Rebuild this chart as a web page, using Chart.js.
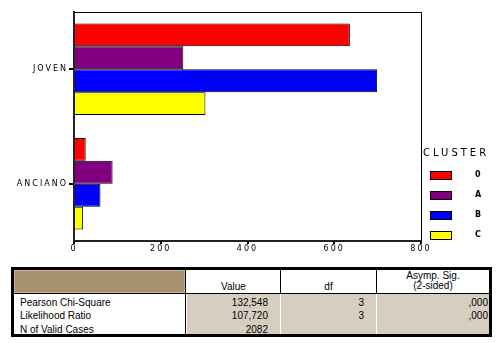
<!DOCTYPE html>
<html>
<head>
<meta charset="utf-8">
<script src="https://cdn.jsdelivr.net/npm/chart.js@4"></script>
<style>
  body { margin: 0; background: #fff; width: 500px; height: 343px; position: relative; overflow: hidden; font-family: "Liberation Sans", Arial, sans-serif; font-size: 10px; color: #000; }
  #chartBox { position: absolute; left: 0; top: 0; width: 500px; height: 260px; }
  #stats { position: absolute; left: 11px; top: 267px; width: 475px; height: 64px; border: 3px solid #000; background: #fff; overflow: hidden; }
  #stats div { position: absolute; box-sizing: border-box; white-space: nowrap; line-height: 12px; }
  .tan { background: #d6cfc1; }
  .hdr { background: #a8926f; border: 1px solid #c9b593; }
  .vline { background: #000; width: 1px; }
  .hline { background: #000; height: 1px; }
</style>
</head>
<body>
<div id="chartBox"><canvas id="clusterChart" width="500" height="260"></canvas></div>
<div id="stats"></div>
<script>
const categories = ["JOVEN", "ANCIANO"];
const clusters = ["0", "A", "B", "C"];
const counts0 = [636, 27];
const countsA = [252, 89];
const countsB = [699, 61];
const countsC = [303, 21];
const xMax = 800;
const xStep = 200;

const statLabels = ["Pearson Chi-Square", "Likelihood Ratio", "N of Valid Cases"];
const statValue = ["132,548", "107,720", "2082"];
const statDf = ["3", "3", ""];
const statSig = [",000", ",000", ""];

const clusterColors = ["#ff0000", "#800080", "#0000ff", "#ffff00"];
const seriesData = [counts0, countsA, countsB, countsC];

// plot frame + the legend on the right
const framePlugin = {
  id: "frameAndLegend",
  beforeDraw(chart) {
    chart.ctx.letterSpacing = "2px";
  },
  afterDraw(chart) {
    const ctx = chart.ctx;
    const a = chart.chartArea;
    ctx.save();
    ctx.strokeStyle = "#000";
    ctx.lineWidth = 1;
    ctx.beginPath();
    ctx.moveTo(a.left, a.top + 0.5);
    ctx.lineTo(a.right + 0.5, a.top + 0.5);
    ctx.lineTo(a.right + 0.5, a.bottom);
    ctx.stroke();

    ctx.fillStyle = "#000";
    ctx.textBaseline = "middle";
    ctx.letterSpacing = "3px";
    ctx.font = "10px 'DejaVu Sans'";
    ctx.fillText("CLUSTER", 423, 153);
    ctx.letterSpacing = "0px";
    ctx.font = "bold 8px 'DejaVu Sans'";
    clusters.forEach((name, i) => {
      const y = 171 + i * 20;
      ctx.fillStyle = clusterColors[i];
      ctx.fillRect(430, y, 21, 8);
      ctx.strokeRect(430.5, y + 0.5, 21, 8);
      ctx.fillStyle = "#000";
      ctx.fillText(name, 475, y + 4);
    });
    ctx.restore();
  }
};

new Chart(document.getElementById("clusterChart"), {
  type: "bar",
  data: {
    labels: categories,
    datasets: clusters.map((name, i) => ({
      label: name,
      data: seriesData[i],
      backgroundColor: clusterColors[i],
      borderColor: "#000",
      borderWidth: 1,
      categoryPercentage: 0.8,
      barPercentage: 1.0,
    })),
  },
  options: {
    indexAxis: "y",
    responsive: false,
    animation: false,
    layout: { padding: { top: 12, right: 79, bottom: 0, left: 0 } },
    plugins: { legend: { display: false }, tooltip: { enabled: false } },
    scales: {
      x: {
        min: 0,
        max: xMax,
        ticks: { stepSize: xStep, color: "#000", font: { family: "DejaVu Sans", size: 8 }, padding: 0 },
        grid: { drawOnChartArea: false, drawTicks: true, tickLength: 3, color: "#000", lineWidth: 2 },
        border: { color: "#222", width: 2 },
        afterFit(scale) { scale.height = 19; },
      },
      y: {
        offset: true,
        ticks: { color: "#000", font: { family: "DejaVu Sans", size: 8 }, padding: 1 },
        grid: { offset: false, drawOnChartArea: false, drawTicks: true, tickLength: 5, color: "#000", lineWidth: 2 },
        border: { color: "#222", width: 2 },
        afterFit(scale) { scale.width = 74; },
      },
    },
  },
  plugins: [framePlugin],
});

// chi-square table under the chart
const stats = document.getElementById("stats");
function box(cls, left, top, width, height, text, align) {
  const d = document.createElement("div");
  d.className = cls;
  d.style.left = left + "px";
  d.style.top = top + "px";
  d.style.width = width + "px";
  d.style.height = height + "px";
  if (text !== undefined) {
    d.textContent = text;
    d.style.textAlign = align || "left";
  }
  stats.appendChild(d);
  return d;
}

const headBottom = 23, rowTop = 24, rowH = 13.6;

box("hdr", 0, 0, 171, 23);
box("tan", 173, rowTop, 93, 40);
box("tan", 267, rowTop, 95, 40);
box("tan", 363, rowTop, 112, 40);
box("hline", 0, headBottom, 475, 1);
box("vline", 171, 0, 1, 64);
box("vline", 266, 0, 1, 23);
box("vline", 362, 0, 1, 23);

box("", 173, 11, 93, 12, "Value", "center");
box("", 267, 11, 95, 12, "df", "center");
box("", 363, 0, 112, 12, "Asymp. Sig.", "center");
box("", 363, 10, 112, 12, "(2-sided)", "center");

statLabels.forEach((label, i) => {
  const y = rowTop + 2.5 + i * rowH;
  box("", 6, y, 160, 12, label);
  box("", 173, y, 81, 12, statValue[i], "right");
  box("", 267, y, 83, 12, statDf[i], "right");
  box("", 363, y, 111, 12, statSig[i], "right");
});
</script>
</body>
</html>
